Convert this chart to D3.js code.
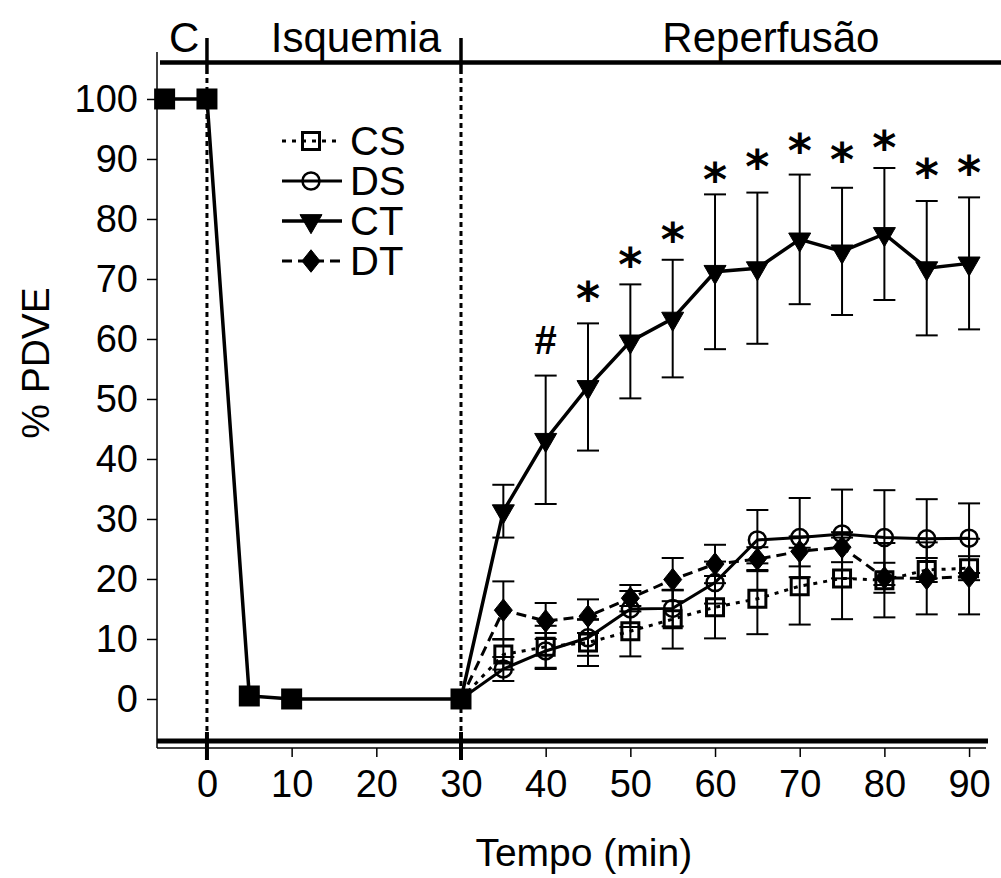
<!DOCTYPE html>
<html>
<head>
<meta charset="utf-8">
<script src="https://cdn.jsdelivr.net/npm/d3@7"></script>
<style>
    body { margin: 0; background: #fff; }
    svg { display: block; font-family: "Liberation Sans", Arial, sans-serif; }
</style>
</head>
<body>
<div id="chart"></div>
<script>
// shared points before reperfusion (all groups overlap)
const baseTimes = [-5, 0, 5, 10, 30];
const baseValues = [100, 100, 0.5, 0, 0];

// reperfusion time points (min)
const reperfTimes = [35, 40, 45, 50, 55, 60, 65, 70, 75, 80, 85, 90];

const csMean = [7.4, 8.7, 9.4, 11.3, 13.3, 15.3, 16.7, 18.8, 20.1, 19.8, 21.5, 21.8];
const csSem  = [2.5, 3.5, 3.9, 4.2, 4.9, 5.2, 5.9, 6.4, 6.8, 6.2, 2.0, 2.0];
const dsMean = [5.0, 8.0, 10.2, 15.0, 15.1, 19.4, 26.5, 26.9, 27.5, 26.9, 26.7, 26.8];
const dsSem  = [2.0, 3.0, 3.0, 3.0, 3.0, 3.5, 5.0, 6.6, 7.4, 7.9, 6.6, 5.8];
const ctMean = [31.3, 43.2, 52.0, 59.6, 63.4, 71.2, 71.8, 76.6, 74.6, 77.5, 71.8, 72.6];
const ctSem  = [4.4, 10.7, 10.6, 9.5, 9.8, 12.9, 12.6, 10.8, 10.6, 11.0, 11.2, 11.0];
const dtMean = [14.8, 13.0, 13.8, 16.8, 19.9, 22.5, 23.3, 24.6, 25.3, 20.2, 20.1, 20.4];
const dtSem  = [4.8, 3.0, 2.8, 2.2, 3.6, 3.2, 2.0, 2.5, 2.5, 2.5, 6.0, 6.3];

const groupNames = ["CS", "DS", "CT", "DT"];

// significance marks above CT
const markTimes  = [40, 45, 50, 55, 60, 65, 70, 75, 80, 85, 90];
const markLabels = ["#", "*", "*", "*", "*", "*", "*", "*", "*", "*", "*"];
const markLevels = [59.8, 68.5, 74.2, 78.3, 88.4, 90.5, 93.2, 91.6, 93.7, 89.0, 89.5];

// protocol phases along the top
const phaseLabels = ["C", "Isquemia", "Reperfusão"];
const phaseCenters = [-2.7, 17.6, 66.6];
const phaseBounds = [0, 30];

const xTicks = d3.range(0, 91, 10);
const yTicks = d3.range(0, 101, 10);

const width = 1001, height = 878;
const plotLeft = 157, plotRight = 986, plotTop = 52, plotBottom = 748;

const svg = d3.select("#chart").append("svg")
    .attr("width", width)
    .attr("height", height);

const x = d3.scaleLinear().domain([-5.9, 92]).range([plotLeft, plotRight]);
const y = d3.scaleLinear().domain([-8.17, 107.83]).range([plotBottom, plotTop]);

// custom marker shape: slightly tall diamond
const diamondTall = {
    draw(ctx, size) {
        const r = Math.sqrt(size) / 2;
        ctx.moveTo(0, -r * 1.25);
        ctx.lineTo(r, 0);
        ctx.lineTo(0, r * 1.25);
        ctx.lineTo(-r, 0);
        ctx.closePath();
    }
};

const groups = [
    { name: groupNames[0], mean: csMean, sem: csSem, dash: "4,6", width: 3,
      symbol: d3.symbolSquare, size: 289, fill: "none", stroke: 3, rotate: 0 },
    { name: groupNames[1], mean: dsMean, sem: dsSem, dash: null, width: 3,
      symbol: d3.symbolCircle, size: 227, fill: "none", stroke: 2.5, rotate: 0 },
    { name: groupNames[2], mean: ctMean, sem: ctSem, dash: null, width: 3.5,
      symbol: d3.symbolTriangle, size: 210, fill: "#000", stroke: 1, rotate: 180 },
    { name: groupNames[3], mean: dtMean, sem: dtSem, dash: "10,6", width: 3,
      symbol: diamondTall, size: 324, fill: "#000", stroke: 1, rotate: 0 }
];

// y axis
const yAxis = svg.append("g")
    .attr("transform", `translate(${plotLeft},0)`)
    .call(d3.axisLeft(y).tickValues(yTicks).tickSize(10).tickPadding(9));
yAxis.select(".domain").remove();
yAxis.selectAll(".tick line").attr("stroke", "#000").attr("stroke-width", 1.5);
yAxis.selectAll(".tick text")
    .attr("font-size", 38).attr("font-family", "Liberation Sans, Arial, sans-serif")
    .attr("fill", "#000");
svg.append("line")
    .attr("x1", plotLeft).attr("x2", plotLeft).attr("y1", plotTop).attr("y2", plotBottom)
    .attr("stroke", "#000").attr("stroke-width", 1.5);

// x axis
const xAxis = svg.append("g")
    .attr("transform", `translate(0,${plotBottom})`)
    .call(d3.axisBottom(x).tickValues(xTicks).tickSize(9).tickPadding(13));
xAxis.select(".domain").remove();
xAxis.selectAll(".tick line").attr("stroke", "#000").attr("stroke-width", 1.5);
xAxis.selectAll(".tick text")
    .attr("font-size", 38).attr("font-family", "Liberation Sans, Arial, sans-serif")
    .attr("fill", "#000");
svg.append("line")
    .attr("x1", plotLeft).attr("x2", plotRight).attr("y1", plotBottom).attr("y2", plotBottom)
    .attr("stroke", "#000").attr("stroke-width", 1.5);
// thick bar above the x axis
svg.append("line")
    .attr("x1", plotLeft).attr("x2", plotRight + 2).attr("y1", plotBottom - 7).attr("y2", plotBottom - 7)
    .attr("stroke", "#000").attr("stroke-width", 5);

// top phase bar
svg.append("line")
    .attr("x1", plotLeft + 3).attr("x2", width).attr("y1", 62.5).attr("y2", 62.5)
    .attr("stroke", "#000").attr("stroke-width", 4.5);

phaseBounds.forEach(t => {
    // marks on the top bar
    svg.append("line")
        .attr("x1", x(t)).attr("x2", x(t)).attr("y1", 38).attr("y2", 74)
        .attr("stroke", "#000").attr("stroke-width", 3.5);
    // dotted divider
    svg.append("line")
        .attr("x1", x(t)).attr("x2", x(t)).attr("y1", 78).attr("y2", plotBottom - 12)
        .attr("stroke", "#000").attr("stroke-width", 3).attr("stroke-dasharray", "5,4");
    // marks on the bottom bar
    svg.append("line")
        .attr("x1", x(t)).attr("x2", x(t)).attr("y1", plotBottom - 16).attr("y2", plotBottom + 12)
        .attr("stroke", "#000").attr("stroke-width", 4);
});

svg.selectAll(".phase")
    .data(phaseLabels)
    .enter().append("text")
    .attr("class", "phase")
    .attr("x", (d, i) => x(phaseCenters[i]))
    .attr("y", 52)
    .attr("text-anchor", "middle")
    .attr("font-size", 42)
    .text(d => d);

// axis titles
svg.append("text")
    .attr("x", x(44.5)).attr("y", 866)
    .attr("text-anchor", "middle")
    .attr("font-size", 39)
    .text("Tempo (min)");

svg.append("text")
    .attr("transform", `translate(49,${y(56)}) rotate(-90)`)
    .attr("text-anchor", "middle")
    .attr("font-size", 39)
    .text("% PDVE");

const line = d3.line().x(d => x(d.t)).y(d => y(d.v));

// error bars first
const capHalf = 11;
groups.forEach(g => {
    const eb = svg.append("g").attr("class", "errbars");
    reperfTimes.forEach((t, i) => {
        const hi = y(g.mean[i] + g.sem[i]), lo = y(g.mean[i] - g.sem[i]);
        eb.append("line").attr("x1", x(t)).attr("x2", x(t)).attr("y1", hi).attr("y2", lo);
        eb.append("line").attr("x1", x(t) - capHalf).attr("x2", x(t) + capHalf).attr("y1", hi).attr("y2", hi);
        eb.append("line").attr("x1", x(t) - capHalf).attr("x2", x(t) + capHalf).attr("y1", lo).attr("y2", lo);
    });
    eb.selectAll("line").attr("stroke", "#000").attr("stroke-width", 2);
});

// shared pre-reperfusion segment
const baseData = baseTimes.map((t, i) => ({ t, v: baseValues[i] }));
svg.append("path")
    .datum(baseData)
    .attr("d", line)
    .attr("fill", "none").attr("stroke", "#000").attr("stroke-width", 3.5);

// group lines, all starting from the last shared point
groups.forEach(g => {
    const pts = [{ t: 30, v: 0 }].concat(reperfTimes.map((t, i) => ({ t, v: g.mean[i] })));
    svg.append("path")
        .datum(pts)
        .attr("d", line)
        .attr("fill", "none")
        .attr("stroke", "#000")
        .attr("stroke-width", g.width)
        .attr("stroke-dasharray", g.dash);
});

// markers
groups.forEach(g => {
    svg.append("g").selectAll("path")
        .data(reperfTimes.map((t, i) => ({ t, v: g.mean[i] })))
        .enter().append("path")
        .attr("d", d3.symbol().type(g.symbol).size(g.size))
        .attr("transform", d => `translate(${x(d.t)},${y(d.v)}) rotate(${g.rotate})`)
        .attr("fill", g.fill)
        .attr("stroke", "#000")
        .attr("stroke-width", g.stroke);
});

svg.append("g").selectAll("path")
    .data(baseData)
    .enter().append("path")
    .attr("d", d3.symbol().type(d3.symbolSquare).size(441))
    .attr("transform", d => `translate(${x(d.t)},${y(d.v)})`)
    .attr("fill", "#000");

// significance marks
svg.selectAll(".mark")
    .data(markLabels)
    .enter().append("text")
    .attr("class", "mark")
    .attr("x", (d, i) => x(markTimes[i]))
    .attr("y", (d, i) => y(markLevels[i]) + (d === "#" ? 14 : 27))
    .attr("text-anchor", "middle")
    .attr("font-family", d => d === "#" ? "Liberation Sans, Arial, sans-serif" : "DejaVu Sans, sans-serif")
    .attr("font-weight", "bold")
    .attr("font-size", d => d === "#" ? 40 : 46)
    .text(d => d);

// legend
const legendRows = [141, 181, 221, 261];
groups.forEach((g, i) => {
    const ly = legendRows[i];
    svg.append("line")
        .attr("x1", 282).attr("x2", 342).attr("y1", ly).attr("y2", ly)
        .attr("stroke", "#000").attr("stroke-width", g.width)
        .attr("stroke-dasharray", g.dash);
    svg.append("path")
        .attr("d", d3.symbol().type(g.symbol).size(g.size))
        .attr("transform", `translate(311,${ly}) rotate(${g.rotate})`)
        .attr("fill", g.fill)
        .attr("stroke", "#000")
        .attr("stroke-width", g.stroke);
    svg.append("text")
        .attr("x", 350).attr("y", ly)
        .attr("dominant-baseline", "central")
        .attr("font-size", 40)
        .text(g.name);
});
</script>
</body>
</html>
